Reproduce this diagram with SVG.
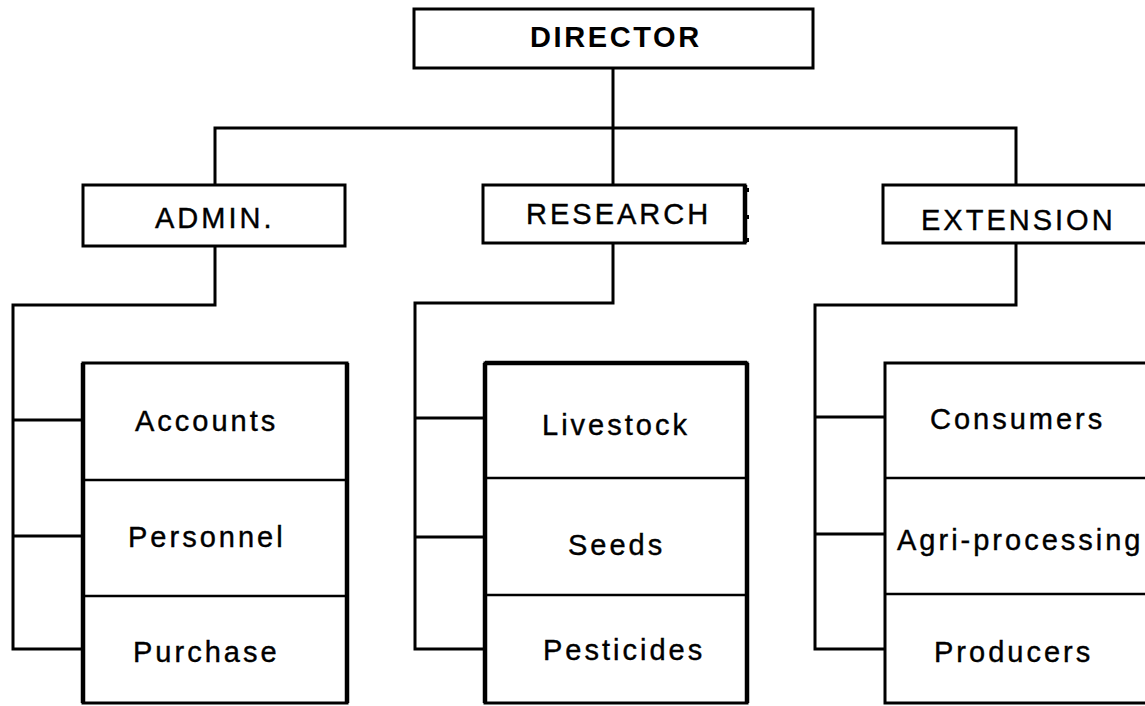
<svg xmlns="http://www.w3.org/2000/svg" width="1145" height="706" viewBox="0 0 1145 706">
  <style>
    .box { fill: #fff; stroke: #000; stroke-width: 3; }
    .side { stroke: #000; stroke-width: 4.5; fill: none; }
    .div { stroke: #000; stroke-width: 2.5; }
    .link { stroke: #000; stroke-width: 3; fill: none; stroke-linejoin: miter; }
    text { font-family: "Liberation Sans", Arial, Helvetica, sans-serif; font-size: 29px; letter-spacing: 3px; fill: #000; stroke: #000; stroke-width: 0.4; }
    .title { font-weight: bold; letter-spacing: 2.6px; stroke-width: 0; }
  </style>
  <rect width="1145" height="706" fill="#fff"/>

  <!-- connectors -->
  <g id="connectors">
    <path class="link" d="M613,68 V185"/>
    <path class="link" d="M215,185 V128 H1016 V185"/>
    <!-- admin branch -->
    <path class="link" d="M215,246 V305 H13 V649 H83"/>
    <path class="link" d="M13,420 H83 M13,536 H83"/>
    <!-- research branch -->
    <path class="link" d="M613,243 V303 H415 V649 H485"/>
    <path class="link" d="M415,418 H485 M415,537 H485"/>
    <!-- extension branch -->
    <path class="link" d="M1016,243 V305 H815 V649 H885"/>
    <path class="link" d="M815,417 H885 M815,534 H885"/>
  </g>

  <g id="director">
    <rect class="box" x="414" y="9" width="399" height="59"/>
    <text class="title" x="530" y="47">DIRECTOR</text>
  </g>

  <g id="admin">
    <rect class="box" x="83" y="185" width="262" height="61"/>
    <text x="155" y="228" letter-spacing="3.8">ADMIN.</text>
  </g>

  <g id="research">
    <rect class="box" x="483" y="185" width="262" height="58"/>
    <path class="side" d="M745,185 V243"/>
    <path d="M748,188 V192 M748,215 V219 M748,238 V242" stroke="#000" stroke-width="2"/>
    <text x="526" y="224" letter-spacing="2">RESEARCH</text>
  </g>

  <g id="extension">
    <rect class="box" x="883" y="185" width="270" height="58"/>
    <text x="921" y="230">EXTENSION</text>
  </g>

  <g id="admin-units">
    <rect class="box" x="83" y="363" width="264" height="340"/>
    <path class="side" d="M83,363 V703 M347,363 V703"/>
    <line class="div" x1="83" y1="480" x2="347" y2="480"/>
    <line class="div" x1="83" y1="596" x2="347" y2="596" stroke-width="4"/>
    <text x="135" y="431" letter-spacing="3.8">Accounts</text>
    <text x="128" y="547">Personnel</text>
    <text x="133" y="662">Purchase</text>
  </g>

  <g id="research-units">
    <rect class="box" x="485" y="363" width="262" height="340"/>
    <path class="side" d="M485,363 V703 M747,363 V703 M485,363 H747"/>
    <line class="div" x1="485" y1="478" x2="747" y2="478"/>
    <line class="div" x1="485" y1="595" x2="747" y2="595" stroke-width="2"/>
    <text x="542" y="435">Livestock</text>
    <text x="568" y="555">Seeds</text>
    <text x="543" y="660">Pesticides</text>
  </g>

  <g id="extension-units">
    <rect class="box" x="885" y="363" width="270" height="340"/>
    <line class="div" x1="885" y1="478" x2="1155" y2="478"/>
    <line class="div" x1="885" y1="594" x2="1155" y2="594" stroke-width="1.5"/>
    <text x="930" y="429">Consumers</text>
    <text x="897" y="550" letter-spacing="1.7">Agri-processing</text>
    <text x="934" y="662">Producers</text>
  </g>
</svg>
